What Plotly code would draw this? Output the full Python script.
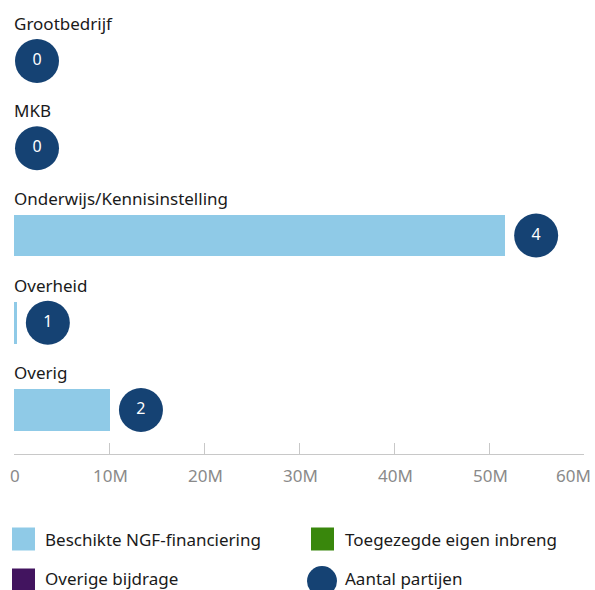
import plotly.graph_objects as go

# Partijen en bedragen (euro)
categories = ["Grootbedrijf", "MKB", "Onderwijs/Kennisinstelling", "Overheid", "Overig"]
ngf_financiering = [0, 0, 51.7e6, 0.3e6, 10.1e6]
eigen_inbreng = [0, 0, 0, 0, 0]
overige_bijdrage = [0, 0, 0, 0, 0]
aantal_partijen = [0, 0, 4, 1, 2]

tick_values = [0, 10e6, 20e6, 30e6, 40e6, 50e6, 60e6]
tick_labels = ["0", "10M", "20M", "30M", "40M", "50M", "60M"]

series_names = ["Beschikte NGF-financiering", "Toegezegde eigen inbreng", "Overige bijdrage"]
series_colors = ["#8fcae7", "#39870c", "#42145f"]
circle_color = "#154273"

W, H = 595, 590
ML, MR, MT, MB = 14, 11, 0, 136
PLOT_W = W - ML - MR
PLOT_H = H - MT - MB
X_MAX = 60e6
FONT = "Noto Sans"
TEXT_COLOR = "#1a1a1a"

y_pos = list(range(len(categories)))

fig = go.Figure()

for name, color, vals in zip(series_names, series_colors,
                             [ngf_financiering, eigen_inbreng, overige_bijdrage]):
    fig.add_trace(go.Bar(
        x=vals, y=y_pos, orientation="h", name=name,
        marker=dict(color=color, line=dict(width=0)),
        width=0.48, showlegend=False, hoverinfo="x",
    ))

# Count bubbles sit just right of each stacked bar
px_per_unit = PLOT_W / X_MAX
totals = [a + b + c for a, b, c in zip(ngf_financiering, eigen_inbreng, overige_bijdrage)]
bubble_x = [t + (31 if t > 0 else 23) / px_per_unit for t in totals]

fig.add_trace(go.Scatter(
    x=bubble_x, y=y_pos, mode="markers+text", name="Aantal partijen",
    marker=dict(size=44, color=circle_color, line=dict(width=0)),
    text=[str(n) for n in aantal_partijen], textposition="middle center",
    textfont=dict(family=FONT, size=16, color="white"),
    showlegend=False, cliponaxis=False,
))

annotations = []
# Category labels above each bar
for i, cat in enumerate(categories):
    annotations.append(dict(
        x=0, y=i, xref="x", yref="y", text=cat, showarrow=False,
        xanchor="left", yanchor="middle", xshift=-2, yshift=37.5,
        font=dict(family=FONT, size=17, color=TEXT_COLOR),
    ))

# Axis tick labels
for v, lab in zip(tick_values, tick_labels):
    last = v == tick_values[-1]
    annotations.append(dict(
        x=v, y=0, xref="x", yref="paper", text=lab, showarrow=False,
        xanchor="right" if last else "center", yanchor="middle",
        xshift=9 if last else 1, yshift=-21,
        font=dict(family=FONT, size=17, color="#8a8a8a"),
    ))


def px_x(p):
    return (p - ML) / PLOT_W


def px_y(p):
    return (MT + PLOT_H - p) / PLOT_H


# Legend
shapes = []
legend_items = [
    (series_names[0], series_colors[0], "rect", 12, 539, 43),
    (series_names[1], series_colors[1], "rect", 311, 539, 343),
    (series_names[2], series_colors[2], "rect", 12, 580, 43),
    ("Aantal partijen", circle_color, "circle", 322, 581, 343),
]
for name, color, kind, x0, yc, tx in legend_items:
    if kind == "rect":
        shapes.append(dict(type="rect", xref="paper", yref="paper",
                           x0=px_x(x0), x1=px_x(x0 + 23), y0=px_y(yc - 11.5), y1=px_y(yc + 11.5),
                           fillcolor=color, line=dict(width=0)))
    else:
        shapes.append(dict(type="circle", xref="paper", yref="paper",
                           x0=px_x(x0 - 15), x1=px_x(x0 + 15), y0=px_y(yc - 15), y1=px_y(yc + 15),
                           fillcolor=color, line=dict(width=0)))
    annotations.append(dict(
        x=px_x(tx), y=px_y(min(yc, 578)), xref="paper", yref="paper", text=name, showarrow=False,
        xanchor="left", yanchor="middle",
        font=dict(family=FONT, size=17, color=TEXT_COLOR),
    ))

fig.update_layout(
    width=W, height=H,
    margin=dict(l=ML, r=MR, t=MT, b=MB, pad=0),
    barmode="stack", bargap=0,
    plot_bgcolor="white", paper_bgcolor="white",
    showlegend=False,
    annotations=annotations, shapes=shapes,
    font=dict(family=FONT),
    xaxis=dict(
        range=[0, X_MAX], tickvals=tick_values, showticklabels=False,
        ticks="inside", ticklen=11, tickcolor="#c8c8c8", tickwidth=1,
        showline=True, linecolor="#c8c8c8", linewidth=1,
        showgrid=False, zeroline=False, fixedrange=True, automargin=False,
    ),
    yaxis=dict(
        range=[4.504, -0.699], visible=False, showgrid=False, zeroline=False,
        fixedrange=True, automargin=False,
    ),
)

fig.write_html("out.html", config={"displayModeBar": False})
